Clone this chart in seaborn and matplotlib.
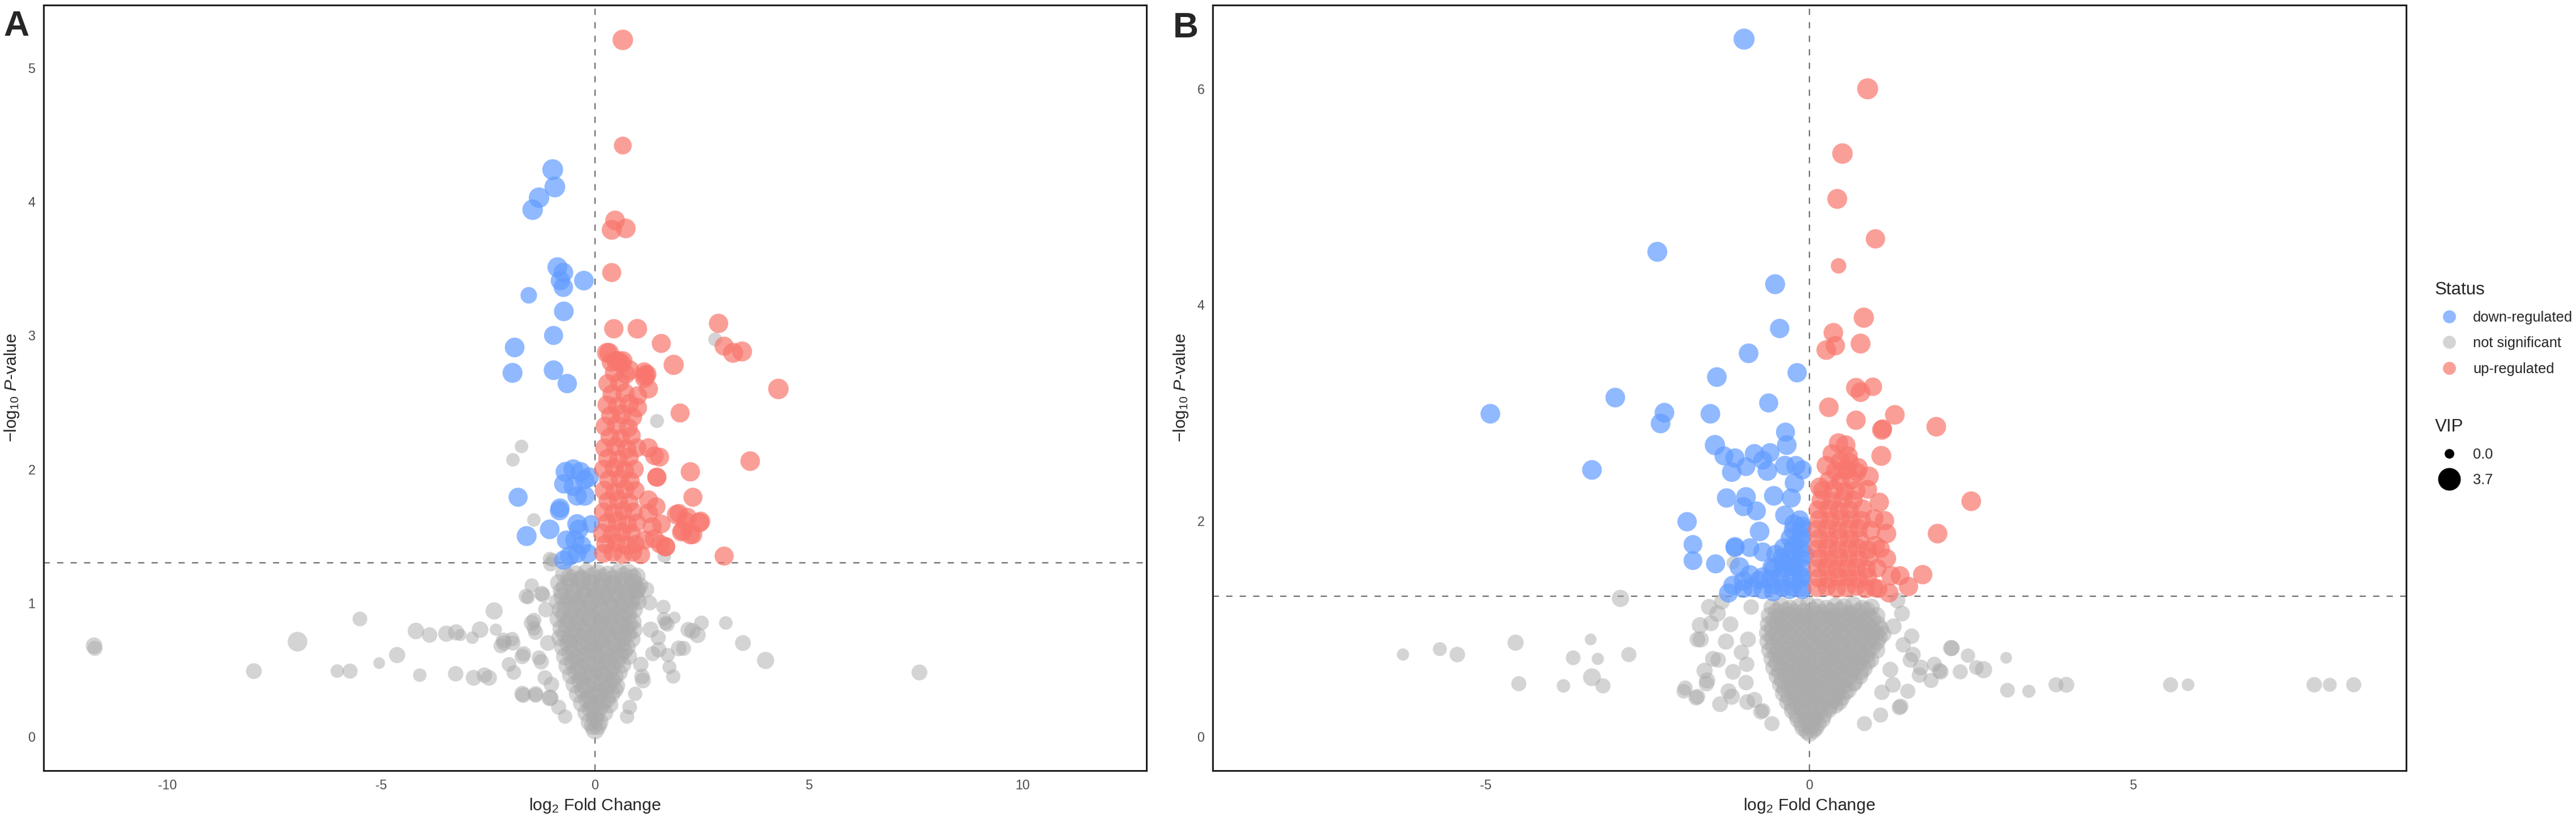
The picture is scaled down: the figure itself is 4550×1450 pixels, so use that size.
"""
Volcano plots (panels A and B) of log2 fold change vs -log10 P-value,
points coloured by regulation status and sized by VIP.
"""

import matplotlib
matplotlib.use("Agg")
import numpy as np
import pandas as pd
import matplotlib.pyplot as plt
from matplotlib.lines import Line2D
import seaborn as sns


STATUS_ORDER = ["down-regulated", "not significant", "up-regulated"]
VIP_BREAKS = [0.0, 3.7]

# ---------------- panel A ----------------
# not significant (dense core first, then the spread-out points)
a_ns_x = [
    -0.72, -0.45, -0.20, 0.05, 0.30, 0.55, 0.78, 0.98,
    -0.85, -0.58, -0.33, -0.08, 0.18, 0.42, 0.68, 0.90, 1.05,
    -0.78, -0.50, -0.25, 0.00, 0.26, 0.50, 0.74, 0.96,
    -0.88, -0.62, -0.38, -0.12, 0.12, 0.38, 0.62, 0.85, 1.02,
    -0.80, -0.55, -0.30, -0.05, 0.20, 0.45, 0.70, 0.92,
    -0.86, -0.60, -0.35, -0.10, 0.15, 0.40, 0.64, 0.88,
    -0.78, -0.52, -0.27, -0.02, 0.24, 0.48, 0.72, 0.90,
    -0.82, -0.58, -0.33, -0.08, 0.17, 0.42, 0.66, 0.86,
    -0.75, -0.50, -0.25, 0.00, 0.25, 0.50, 0.74,
    -0.70, -0.44, -0.18, 0.08, 0.33, 0.58, 0.78,
    -0.64, -0.38, -0.12, 0.14, 0.40, 0.64,
    -0.56, -0.30, -0.05, 0.20, 0.46,
    -0.48, -0.22, 0.04, 0.30, 0.50,
    -0.40, -0.14, 0.12, 0.38,
    -0.30, -0.06, 0.18, 0.34,
    -0.20, 0.02, 0.22,
    -0.12, 0.10,
    0.00,
    -11.72, -11.70, -6.96, -7.98, -5.50, -6.03, -5.73, -5.05,
    -4.63, -4.19, -3.87, -3.48, -3.25, -3.15, -2.87, -2.69,
    -2.36, -2.32, -2.13, -1.94, -4.10, -3.26, -2.84, -2.59,
    -2.48, -1.68, -1.90, -1.57, -1.25, -1.43, -1.43, -1.67,
    -1.31, -1.02, -1.39, -1.06, -2.20, -1.48, -1.06, -1.43,
    -1.72, -1.92, 1.45, 2.81, -0.99, 1.62, 3.06, 3.46,
    3.99, 7.59, 2.18, 2.40, 1.96, 1.74, 1.83, 1.10,
    0.94, 1.61, 1.48, 1.69, 2.28, 1.86, 1.65, 1.70,
    2.07, 1.49, 1.12, 1.60, 1.28, 1.07, 2.49, 0.81,
    1.30, 1.20, 1.35, 0.75, -1.61, -1.22, -1.48, -1.39,
    -1.92, -2.14, -2.01, -1.70, -1.26, -1.17, -1.70, -1.39,
    -1.04, -1.04, -1.15, -1.10, -0.85, -0.70,
]
a_ns_y = [
    1.22, 1.21, 1.23, 1.22, 1.21, 1.23, 1.22, 1.20,
    1.15, 1.16, 1.17, 1.15, 1.16, 1.14, 1.17, 1.15, 1.13,
    1.09, 1.08, 1.10, 1.09, 1.07, 1.10, 1.08, 1.09,
    1.01, 1.03, 1.02, 1.01, 1.03, 1.02, 1.00, 1.02, 1.01,
    0.95, 0.94, 0.96, 0.95, 0.93, 0.96, 0.94, 0.95,
    0.88, 0.87, 0.89, 0.88, 0.87, 0.89, 0.88, 0.86,
    0.81, 0.80, 0.82, 0.81, 0.80, 0.82, 0.81, 0.80,
    0.74, 0.73, 0.75, 0.74, 0.73, 0.75, 0.74, 0.73,
    0.67, 0.66, 0.68, 0.67, 0.66, 0.68, 0.67,
    0.60, 0.59, 0.61, 0.60, 0.59, 0.61, 0.60,
    0.53, 0.52, 0.54, 0.53, 0.52, 0.54,
    0.46, 0.45, 0.47, 0.46, 0.45,
    0.39, 0.38, 0.40, 0.39, 0.38,
    0.32, 0.31, 0.33, 0.32,
    0.25, 0.24, 0.26, 0.24,
    0.18, 0.17, 0.18,
    0.11, 0.11,
    0.05,
    0.68, 0.66, 0.71, 0.49, 0.88, 0.49, 0.49, 0.55,
    0.61, 0.79, 0.76, 0.77, 0.78, 0.76, 0.74, 0.80,
    0.94, 0.80, 0.70, 0.73, 0.46, 0.47, 0.44, 0.46,
    0.44, 0.31, 0.48, 1.04, 1.07, 0.87, 0.81, 0.62,
    0.59, 0.39, 0.31, 0.29, 0.68, 1.13, 1.33, 1.62,
    2.17, 2.07, 2.36, 2.97, 1.32, 1.35, 0.85, 0.70,
    0.57, 0.48, 0.80, 0.76, 0.66, 0.52, 0.45, 0.45,
    0.32, 0.88, 0.74, 0.84, 0.79, 0.89, 0.85, 0.61,
    0.66, 0.65, 0.42, 0.97, 1.00, 0.54, 0.85, 0.22,
    0.80, 1.10, 0.62, 0.15, 1.05, 1.06, 0.85, 0.78,
    0.70, 0.72, 0.54, 0.60, 0.56, 0.44, 0.32, 0.32,
    0.29, 1.29, 0.95, 0.70, 0.22, 0.15,
]
a_ns_vip = [
    2.1, 2.4, 1.9, 2.3, 2.2, 2.0, 2.4, 1.8,
    1.8, 2.2, 2.5, 2.0, 2.3, 2.1, 1.9, 2.2, 1.7,
    2.0, 2.3, 2.1, 2.4, 1.9, 2.2, 2.0, 1.9,
    1.7, 2.2, 2.0, 2.5, 2.1, 2.3, 1.9, 2.0, 1.6,
    2.1, 1.9, 2.3, 2.0, 2.4, 2.1, 2.2, 1.8,
    1.9, 2.2, 2.0, 2.4, 2.1, 1.9, 2.3, 2.0,
    2.2, 2.0, 2.4, 2.1, 2.3, 2.0, 1.9, 2.1,
    1.8, 2.3, 2.1, 2.2, 2.0, 2.4, 2.1, 1.9,
    2.0, 2.2, 2.3, 2.1, 2.2, 2.0, 2.1,
    2.1, 2.0, 2.4, 2.2, 2.1, 2.3, 1.8,
    2.2, 2.1, 2.3, 2.0, 2.2, 2.0,
    2.1, 2.3, 2.2, 2.1, 2.0,
    2.0, 2.2, 2.3, 2.1, 1.9,
    2.1, 2.2, 2.0, 2.1,
    2.2, 2.1, 2.2, 1.9,
    2.1, 2.3, 2.0,
    2.2, 2.1,
    2.3,
    1.6, 1.2, 2.6, 1.4, 1.1, 0.8, 1.2, 0.4,
    1.5, 1.6, 1.3, 1.5, 1.5, 0.5, 0.6, 1.6,
    1.8, 0.5, 1.3, 1.0, 0.8, 1.3, 1.4, 1.3,
    1.4, 1.3, 1.1, 0.8, 1.3, 1.2, 1.0, 1.2,
    1.1, 1.3, 1.2, 1.6, 1.2, 1.0, 0.9, 0.8,
    0.8, 0.8, 0.9, 0.9, 0.9, 0.8, 0.8, 1.4,
    1.8, 1.4, 1.3, 1.5, 1.4, 0.9, 1.0, 1.3,
    1.0, 0.9, 1.2, 1.1, 1.5, 0.5, 1.0, 1.0,
    1.2, 1.3, 1.4, 1.0, 1.2, 1.3, 1.1, 1.1,
    1.5, 1.4, 1.2, 1.0, 1.2, 1.2, 1.4, 1.2,
    1.2, 1.3, 1.1, 1.3, 1.3, 1.2, 1.5, 1.3,
    1.4, 1.1, 1.3, 1.4, 1.2, 1.0,
]
# extra not-significant features packed inside the dense core
a_ns_fill_x = [
    -0.60, -0.32, -0.07, 0.18, 0.43, 0.67, 0.88,
    -0.70, -0.40, -0.13, 0.13, 0.38, 0.62, 0.85, 1.00,
    -0.75, -0.50, -0.25, 0.00, 0.25, 0.50, 0.74, 0.95,
    -0.68, -0.42, -0.17, 0.08, 0.33, 0.58, 0.82,
    -0.72, -0.47, -0.22, 0.03, 0.28, 0.52, 0.78,
    -0.66, -0.40, -0.14, 0.12, 0.36, 0.60, 0.80,
    -0.70, -0.45, -0.20, 0.05, 0.30, 0.55, 0.78,
    -0.62, -0.38, -0.12, 0.12, 0.38, 0.62,
    -0.58, -0.32, -0.06, 0.20, 0.45, 0.68,
    -0.52, -0.25, 0.01, 0.27, 0.52,
    -0.44, -0.18, 0.08, 0.33, 0.56,
    -0.36, -0.10, 0.16, 0.40,
    -0.28, -0.02, 0.25, 0.46,
    -0.18, 0.06, 0.28,
    -0.10, 0.12,
    0.00,
    -0.05, 0.06,
]
a_ns_fill_y = [
    1.19, 1.18, 1.20, 1.19, 1.18, 1.20, 1.19,
    1.12, 1.13, 1.11, 1.12, 1.13, 1.11, 1.12, 1.10,
    1.05, 1.04, 1.06, 1.05, 1.04, 1.06, 1.05, 1.04,
    0.98, 0.99, 0.97, 0.98, 0.99, 0.97, 0.98,
    0.91, 0.90, 0.92, 0.91, 0.90, 0.92, 0.91,
    0.84, 0.85, 0.83, 0.84, 0.85, 0.83, 0.84,
    0.77, 0.76, 0.78, 0.77, 0.76, 0.78, 0.77,
    0.70, 0.71, 0.69, 0.70, 0.71, 0.69,
    0.63, 0.62, 0.64, 0.63, 0.62, 0.64,
    0.56, 0.57, 0.55, 0.56, 0.57,
    0.49, 0.48, 0.50, 0.49, 0.48,
    0.42, 0.43, 0.41, 0.42,
    0.35, 0.34, 0.36, 0.35,
    0.28, 0.29, 0.28,
    0.21, 0.22,
    0.14,
    0.08, 0.08,
]
a_ns_fill_vip = [
    2.0, 2.2, 2.1, 2.3, 1.9, 2.2, 2.0,
    2.1, 1.9, 2.3, 2.0, 2.2, 2.1, 1.9, 1.8,
    2.2, 2.0, 2.1, 2.3, 2.0, 2.2, 1.9, 1.8,
    2.1, 2.3, 2.0, 2.2, 2.1, 1.9, 2.0,
    2.0, 2.2, 2.1, 2.3, 2.0, 2.1, 1.9,
    2.2, 2.0, 2.3, 2.1, 2.0, 2.2, 1.9,
    2.1, 2.2, 2.0, 2.3, 2.1, 2.0, 1.9,
    2.2, 2.1, 2.3, 2.0, 2.2, 2.0,
    2.0, 2.2, 2.1, 2.3, 2.1, 1.9,
    2.1, 2.0, 2.3, 2.2, 2.0,
    2.2, 2.1, 2.0, 2.3, 1.9,
    2.0, 2.2, 2.1, 2.0,
    2.1, 2.3, 2.0, 1.9,
    2.2, 2.1, 2.0,
    2.1, 2.0,
    2.2,
    2.0, 2.1,
]

# down-regulated
a_down_x = [
    -0.99, -0.94, -1.31, -1.46, -0.88, -0.74, -0.81, -0.74, -0.26, -1.55,
    -0.73, -0.97, -1.88, -1.93, -0.97, -0.65,
    -1.80, -1.60, -1.06, -0.83, -0.69, -0.51, -0.34, -0.14, -0.73, -0.51,
    -0.24, -0.42, -0.24, -0.82, -0.42, -0.38, -0.67, -0.47, -0.31, -0.60,
    -0.42, -0.16, -0.73, -0.09,
]
a_down_y = [
    4.24, 4.11, 4.03, 3.94, 3.51, 3.47, 3.41, 3.36, 3.41, 3.30,
    3.18, 3.00, 2.91, 2.72, 2.74, 2.64,
    1.79, 1.50, 1.55, 1.69, 1.98, 2.00, 1.98, 1.94, 1.89, 1.87,
    1.92, 1.80, 1.80, 1.71, 1.59, 1.55, 1.47, 1.47, 1.43, 1.35,
    1.37, 1.37, 1.32, 1.59,
]
a_down_vip = [
    3.0, 3.0, 2.9, 2.9, 2.7, 2.6, 2.5, 2.5, 2.6, 1.6,
    2.6, 2.4, 2.6, 2.7, 2.6, 2.5,
    2.4, 2.7, 2.6, 2.5, 2.7, 2.6, 2.6, 2.6, 2.5, 2.4,
    2.3, 2.5, 2.6, 2.4, 2.6, 2.5, 2.4, 2.5, 2.3, 2.5,
    2.4, 2.3, 2.5, 2.0,
]

# up-regulated (spread-out points, then the dense column)
a_up_x = [
    0.65, 0.65, 0.47, 0.39, 0.72, 0.39, 0.44, 0.99, 1.55, 1.84,
    2.89, 3.02, 3.23, 3.44, 4.29, 3.63, 1.99, 3.02, 0.33, 0.49,
    0.65, 1.18, 1.51, 2.23, 2.29, 1.44, 1.91, 2.12, 2.44, 2.23,
    2.02, 1.65, 1.55, 1.39, 0.28, 0.54, 0.81, 1.16, 1.45, 1.96,
    2.16, 2.47, 2.05, 2.29, 1.25, 1.34, 1.43, 1.16, 1.65, 1.52,
    1.07, 1.25, 1.25, 1.39, 1.21, 1.25, 0.99,
    0.20, 0.42, 0.65, 0.88,
    0.25, 0.50, 0.75, 0.95,
    0.18, 0.40, 0.62, 0.85,
    0.28, 0.52, 0.76, 0.98,
    0.20, 0.44, 0.66, 0.90,
    0.30, 0.55, 0.80,
    0.22, 0.46, 0.70, 0.94,
    0.32, 0.58, 0.82,
    0.20, 0.45, 0.70, 0.92,
    0.30, 0.55, 0.80,
    0.22, 0.48, 0.74, 0.98,
    0.35, 0.60, 0.85,
    0.24, 0.50, 0.78,
    0.36, 0.62, 0.88,
    0.28, 0.52, 0.80,
    0.40, 0.70, 1.00,
    0.30, 0.58,
    0.45, 0.72, 1.15,
    0.38, 0.62,
]
a_up_y = [
    5.21, 4.42, 3.86, 3.79, 3.80, 3.47, 3.05, 3.05, 2.94, 2.78,
    3.09, 2.92, 2.87, 2.88, 2.60, 2.06, 2.42, 1.35, 2.87, 2.81,
    2.81, 2.70, 2.09, 1.98, 1.79, 1.94, 1.66, 1.61, 1.60, 1.51,
    1.53, 1.42, 1.59, 1.48, 2.87, 2.81, 2.74, 2.68, 1.94, 1.67,
    1.64, 1.61, 1.54, 1.51, 1.67, 1.57, 1.72, 1.47, 1.42, 1.44,
    1.36, 1.77, 2.16, 2.10, 2.71, 2.60, 2.46,
    1.37, 1.38, 1.36, 1.38,
    1.44, 1.45, 1.43, 1.44,
    1.52, 1.51, 1.53, 1.52,
    1.60, 1.61, 1.59, 1.60,
    1.68, 1.67, 1.69, 1.68,
    1.76, 1.77, 1.75,
    1.84, 1.83, 1.85, 1.84,
    1.92, 1.93, 1.91,
    2.00, 2.01, 1.99, 2.00,
    2.08, 2.07, 2.09,
    2.16, 2.17, 2.15, 2.16,
    2.24, 2.23, 2.25,
    2.32, 2.33, 2.31,
    2.40, 2.41, 2.39,
    2.48, 2.47, 2.49,
    2.56, 2.57, 2.55,
    2.64, 2.65,
    2.72, 2.71, 2.73,
    2.80, 2.79,
]
a_up_vip = [
    2.9, 2.0, 2.6, 2.7, 2.6, 2.4, 2.5, 2.6, 2.4, 2.8,
    2.5, 2.4, 2.7, 2.7, 2.9, 2.6, 2.4, 2.4, 2.6, 2.5,
    2.5, 2.6, 2.4, 2.5, 2.4, 2.3, 2.6, 2.4, 2.6, 2.5,
    2.3, 2.4, 2.3, 2.4, 2.7, 2.6, 2.6, 2.5, 2.4, 2.3,
    2.4, 2.5, 2.4, 2.3, 2.5, 2.4, 2.3, 2.4, 2.5, 2.3,
    2.3, 2.4, 2.4, 2.3, 2.5, 2.4, 2.5,
    2.3, 2.5, 2.2, 2.4,
    2.4, 2.2, 2.5, 2.1,
    2.5, 2.3, 2.4, 2.2,
    2.2, 2.4, 2.3, 2.1,
    2.4, 2.5, 2.2, 2.3,
    2.3, 2.4, 2.2,
    2.5, 2.2, 2.4, 2.3,
    2.4, 2.3, 2.5,
    2.3, 2.4, 2.2, 2.3,
    2.5, 2.3, 2.4,
    2.2, 2.4, 2.5, 2.3,
    2.4, 2.2, 2.3,
    2.5, 2.4, 2.3,
    2.3, 2.5, 2.4,
    2.4, 2.3, 2.5,
    2.5, 2.4, 2.3,
    2.4, 2.5,
    2.3, 2.4, 2.2,
    2.4, 2.5,
]

# ---------------- panel B ----------------
b_ns_x = [
    -0.58, -0.44, -0.30, -0.16, -0.02, 0.12, 0.26, 0.40, 0.54, 0.68, 0.82, 0.96,
    -0.62, -0.48, -0.34, -0.20, -0.06, 0.08, 0.22, 0.36, 0.50, 0.64, 0.78, 0.92, 1.04,
    -0.64, -0.50, -0.36, -0.22, -0.08, 0.06, 0.20, 0.34, 0.48, 0.62, 0.76, 0.90, 1.06,
    -0.65, -0.51, -0.37, -0.23, -0.09, 0.05, 0.19, 0.33, 0.47, 0.61, 0.75, 0.89, 1.03, 1.14,
    -0.64, -0.49, -0.35, -0.21, -0.07, 0.07, 0.21, 0.35, 0.49, 0.63, 0.77, 0.91, 1.05,
    -0.62, -0.48, -0.34, -0.20, -0.06, 0.08, 0.22, 0.36, 0.50, 0.64, 0.78, 0.92, 1.04,
    -0.58, -0.44, -0.30, -0.16, -0.02, 0.12, 0.26, 0.40, 0.54, 0.68, 0.82, 0.95,
    -0.55, -0.41, -0.27, -0.13, 0.01, 0.15, 0.29, 0.43, 0.57, 0.71, 0.85,
    -0.50, -0.36, -0.22, -0.08, 0.06, 0.20, 0.34, 0.48, 0.62, 0.78,
    -0.45, -0.31, -0.17, -0.03, 0.11, 0.25, 0.39, 0.53, 0.68,
    -0.40, -0.26, -0.12, 0.02, 0.16, 0.30, 0.44, 0.55,
    -0.34, -0.20, -0.06, 0.08, 0.22, 0.36, 0.46,
    -0.26, -0.12, 0.02, 0.16, 0.30,
    -0.18, -0.04, 0.10, 0.20,
    -0.10, 0.02, 0.10,
    0.00,
    -6.28, -5.71, -5.44, -4.54, -4.49, -3.80, -3.65, -3.38, -3.36, -3.27,
    -3.19, -2.79, -2.92, -1.94, -1.73, -1.69, -1.73, -1.55, -1.52, -1.41,
    -1.62, -1.59, -1.38, -1.20, -1.18, -0.96, -0.75, -1.92, -1.75, -1.58,
    -1.49, -1.68, -1.42, -1.22, -1.29, -1.18, -0.98, -1.25, -0.85, -0.72,
    -0.58, -0.97, -1.35, -0.90, -0.95, -1.05,
    3.04, 2.69, 2.19, 2.33, 3.06, 3.39, 3.81, 3.97, 5.58, 5.85,
    7.80, 8.04, 8.41, 2.01, 1.88, 1.70, 1.60, 1.52, 1.39, 2.20,
    1.58, 1.56, 1.72, 1.93, 2.03, 2.58, 1.41, 1.29, 1.12, 1.43,
    1.36, 1.30, 1.45, 1.10, 0.85, 1.25, 2.45,
]
b_ns_y = [
    1.20, 1.21, 1.19, 1.20, 1.22, 1.20, 1.19, 1.21, 1.20, 1.22, 1.19, 1.20,
    1.12, 1.11, 1.13, 1.12, 1.11, 1.13, 1.12, 1.11, 1.12, 1.13, 1.11, 1.12, 1.12,
    1.04, 1.05, 1.03, 1.04, 1.05, 1.03, 1.04, 1.05, 1.03, 1.04, 1.05, 1.03, 1.04,
    0.96, 0.95, 0.97, 0.96, 0.95, 0.97, 0.96, 0.95, 0.97, 0.96, 0.95, 0.97, 0.96, 0.95,
    0.88, 0.89, 0.87, 0.88, 0.89, 0.87, 0.88, 0.89, 0.87, 0.88, 0.89, 0.87, 0.88,
    0.80, 0.79, 0.81, 0.80, 0.79, 0.81, 0.80, 0.79, 0.81, 0.80, 0.79, 0.81, 0.80,
    0.72, 0.73, 0.71, 0.72, 0.73, 0.71, 0.72, 0.73, 0.71, 0.72, 0.73, 0.71,
    0.64, 0.63, 0.65, 0.64, 0.63, 0.65, 0.64, 0.63, 0.65, 0.64, 0.63,
    0.56, 0.57, 0.55, 0.56, 0.57, 0.55, 0.56, 0.57, 0.55, 0.56,
    0.48, 0.47, 0.49, 0.48, 0.47, 0.49, 0.48, 0.47, 0.49,
    0.40, 0.41, 0.39, 0.40, 0.41, 0.39, 0.40, 0.41,
    0.32, 0.31, 0.33, 0.32, 0.31, 0.33, 0.32,
    0.24, 0.25, 0.23, 0.24, 0.25,
    0.16, 0.15, 0.17, 0.16,
    0.08, 0.09, 0.08,
    0.03,
    0.76, 0.81, 0.76, 0.87, 0.49, 0.47, 0.73, 0.90, 0.55, 0.72,
    0.47, 0.76, 1.28, 0.42, 0.37, 1.03, 0.90, 1.20, 1.05, 0.71,
    0.61, 0.49, 0.30, 0.37, 1.61, 0.32, 0.23, 0.45, 0.36, 0.52,
    0.72, 0.90, 1.14, 1.04, 0.88, 0.60, 0.50, 0.42, 0.34, 0.24,
    0.12, 0.67, 1.25, 1.20, 0.90, 0.78,
    0.73, 0.62, 0.82, 0.60, 0.43, 0.42, 0.48, 0.48, 0.48, 0.48,
    0.48, 0.48, 0.48, 0.61, 0.52, 0.57, 0.76, 0.42, 0.27, 0.82,
    0.93, 0.71, 0.64, 0.67, 0.60, 0.64, 0.28, 0.48, 0.41, 1.14,
    1.26, 1.02, 0.85, 0.20, 0.12, 0.62, 0.75,
]
b_ns_vip = [
    1.7, 1.8, 1.6, 1.9, 1.7, 1.8, 1.6, 1.7, 1.9, 1.8, 1.6, 1.7,
    1.8, 1.6, 1.7, 1.8, 1.9, 1.7, 1.6, 1.8, 1.7, 1.9, 1.7, 1.6, 1.8,
    1.6, 1.8, 1.9, 1.7, 1.6, 1.8, 1.7, 1.9, 1.6, 1.8, 1.7, 1.8, 1.6,
    1.7, 1.9, 1.6, 1.8, 1.7, 1.9, 1.6, 1.8, 1.7, 1.6, 1.9, 1.7, 1.8, 1.6,
    1.8, 1.7, 1.9, 1.6, 1.8, 1.7, 1.9, 1.6, 1.8, 1.7, 1.6, 1.8, 1.7,
    1.6, 1.8, 1.7, 1.9, 1.6, 1.8, 1.7, 1.6, 1.9, 1.7, 1.8, 1.6, 1.7,
    1.7, 1.9, 1.8, 1.6, 1.7, 1.9, 1.8, 1.7, 1.6, 1.8, 1.7, 1.6,
    1.8, 1.6, 1.7, 1.9, 1.8, 1.6, 1.7, 1.8, 1.9, 1.7, 1.6,
    1.7, 1.8, 1.6, 1.9, 1.7, 1.8, 1.6, 1.7, 1.8, 1.7,
    1.6, 1.8, 1.7, 1.9, 1.7, 1.6, 1.8, 1.7, 1.6,
    1.8, 1.7, 1.6, 1.9, 1.7, 1.8, 1.6, 1.7,
    1.7, 1.8, 1.9, 1.7, 1.6, 1.8, 1.7,
    1.8, 1.7, 1.6, 1.8, 1.7,
    1.7, 1.8, 1.6, 1.7,
    1.7, 1.8, 1.6,
    1.8,
    0.5, 0.9, 1.3, 1.5, 1.2, 0.8, 1.1, 0.4, 2.0, 0.5,
    1.2, 1.2, 1.8, 1.1, 1.3, 1.6, 1.4, 1.5, 1.4, 1.3,
    1.5, 1.3, 1.4, 1.5, 0.7, 1.4, 1.3, 1.2, 1.3, 1.5,
    1.4, 1.5, 1.6, 1.4, 1.5, 1.4, 1.3, 1.4, 1.4, 1.2,
    1.2, 1.3, 1.4, 1.3, 1.4, 1.3,
    0.4, 1.8, 1.5, 1.2, 1.1, 0.7, 1.2, 1.4, 1.2, 0.6,
    1.3, 0.9, 1.2, 1.3, 1.2, 1.3, 1.3, 1.2, 1.3, 1.4,
    1.3, 1.3, 1.4, 1.2, 1.3, 1.1, 1.3, 1.4, 1.3, 1.4,
    1.4, 1.5, 1.3, 1.2, 1.2, 1.4, 1.0,
]
b_ns_fill_x = [
    -0.51, -0.37, -0.23, -0.09, 0.05, 0.19, 0.33, 0.47, 0.61, 0.75, 0.89,
    -0.55, -0.41, -0.27, -0.13, 0.01, 0.15, 0.29, 0.43, 0.57, 0.71, 0.85, 0.98,
    -0.57, -0.43, -0.29, -0.15, -0.01, 0.13, 0.27, 0.41, 0.55, 0.69, 0.83, 0.97, 1.10,
    -0.58, -0.44, -0.30, -0.16, -0.02, 0.12, 0.26, 0.40, 0.54, 0.68, 0.82, 0.96, 1.08,
    -0.56, -0.42, -0.28, -0.14, 0.00, 0.14, 0.28, 0.42, 0.56, 0.70, 0.84, 0.98,
    -0.52, -0.38, -0.24, -0.10, 0.04, 0.18, 0.32, 0.46, 0.60, 0.74, 0.88,
    -0.50, -0.36, -0.22, -0.08, 0.06, 0.20, 0.34, 0.48, 0.62, 0.76, 0.90,
    -0.46, -0.32, -0.18, -0.04, 0.10, 0.24, 0.38, 0.52, 0.66, 0.80,
    -0.42, -0.28, -0.14, 0.00, 0.14, 0.28, 0.42, 0.56, 0.70,
    -0.38, -0.24, -0.10, 0.04, 0.18, 0.32, 0.46, 0.60,
    -0.32, -0.18, -0.04, 0.10, 0.24, 0.38, 0.50,
    -0.26, -0.12, 0.02, 0.16, 0.30, 0.40,
    -0.20, -0.06, 0.08, 0.22,
    -0.12, 0.02, 0.14,
    -0.04, 0.06,
]
b_ns_fill_y = [
    1.16, 1.17, 1.15, 1.16, 1.17, 1.15, 1.16, 1.17, 1.15, 1.16, 1.17,
    1.08, 1.07, 1.09, 1.08, 1.07, 1.09, 1.08, 1.07, 1.09, 1.08, 1.07, 1.09,
    1.00, 1.01, 0.99, 1.00, 1.01, 0.99, 1.00, 1.01, 0.99, 1.00, 1.01, 0.99, 1.00,
    0.92, 0.91, 0.93, 0.92, 0.91, 0.93, 0.92, 0.91, 0.93, 0.92, 0.91, 0.93, 0.92,
    0.84, 0.85, 0.83, 0.84, 0.85, 0.83, 0.84, 0.85, 0.83, 0.84, 0.85, 0.83,
    0.76, 0.75, 0.77, 0.76, 0.75, 0.77, 0.76, 0.75, 0.77, 0.76, 0.75,
    0.68, 0.69, 0.67, 0.68, 0.69, 0.67, 0.68, 0.69, 0.67, 0.68, 0.69,
    0.60, 0.59, 0.61, 0.60, 0.59, 0.61, 0.60, 0.59, 0.61, 0.60,
    0.52, 0.53, 0.51, 0.52, 0.53, 0.51, 0.52, 0.53, 0.51,
    0.44, 0.43, 0.45, 0.44, 0.43, 0.45, 0.44, 0.43,
    0.36, 0.37, 0.35, 0.36, 0.37, 0.35, 0.36,
    0.28, 0.27, 0.29, 0.28, 0.27, 0.29,
    0.20, 0.21, 0.19, 0.20,
    0.12, 0.13, 0.12,
    0.05, 0.06,
]
b_ns_fill_vip = [
    1.8, 1.7, 1.9, 1.6, 1.8, 1.7, 1.9, 1.8, 1.6, 1.7, 1.8,
    1.7, 1.9, 1.8, 1.6, 1.7, 1.8, 1.9, 1.7, 1.6, 1.8, 1.7, 1.6,
    1.9, 1.7, 1.8, 1.6, 1.9, 1.7, 1.8, 1.6, 1.7, 1.9, 1.8, 1.7, 1.6,
    1.6, 1.8, 1.7, 1.9, 1.8, 1.6, 1.7, 1.9, 1.8, 1.7, 1.6, 1.8, 1.7,
    1.8, 1.6, 1.9, 1.7, 1.8, 1.7, 1.6, 1.9, 1.8, 1.7, 1.8, 1.6,
    1.7, 1.9, 1.8, 1.6, 1.7, 1.8, 1.9, 1.7, 1.6, 1.8, 1.7,
    1.9, 1.7, 1.6, 1.8, 1.9, 1.7, 1.8, 1.6, 1.7, 1.8, 1.6,
    1.8, 1.7, 1.9, 1.8, 1.6, 1.7, 1.8, 1.9, 1.7, 1.6,
    1.7, 1.8, 1.6, 1.9, 1.7, 1.8, 1.7, 1.6, 1.8,
    1.8, 1.6, 1.7, 1.9, 1.8, 1.7, 1.6, 1.7,
    1.7, 1.9, 1.8, 1.6, 1.7, 1.8, 1.7,
    1.8, 1.7, 1.9, 1.7, 1.6, 1.7,
    1.7, 1.8, 1.6, 1.7,
    1.8, 1.7, 1.6,
    1.7, 1.8,
]

b_down_x = [
    -1.01, -2.35, -0.53, -0.46, -0.94, -0.19, -1.43, -3.00, -4.93, -2.24,
    -2.30, -1.53, -0.63, -3.36, -0.37, -0.35, -1.46, -1.89, -1.80, -1.80,
    -1.45, -1.15,
    -1.32, -1.15, -0.85, -0.61, -0.72, -0.98, -1.20, -0.65, -0.38, -0.21,
    -0.11, -0.23, -1.28, -0.98, -1.02, -0.82, -0.55, -0.28, -0.77, -0.38,
    -0.24, -0.11, -1.15, -0.92, -0.72, -0.52, -0.24, -0.11, -0.07, -1.08,
    -0.92, -1.18, -1.02, -0.72, -0.58, -0.45, -0.24, -0.11, -0.31, -0.56,
    -0.11, -1.25, -0.72, -0.41,
    -0.12, -0.27, -0.42, -0.57, -0.88, -1.02, -0.13, -0.28, -0.60, -0.78,
    -0.12, -0.26, -0.40, -0.55, -0.13, -0.28, -0.43, -0.12, -0.26, -0.40,
    -0.14, -0.30, -0.12, -0.25, -0.15,
]
b_down_y = [
    6.46, 4.49, 4.19, 3.78, 3.55, 3.37, 3.33, 3.14, 2.99, 3.00,
    2.90, 2.99, 3.09, 2.47, 2.82, 2.70, 2.70, 1.99, 1.78, 1.63,
    1.60, 1.75,
    2.60, 2.58, 2.62, 2.63, 2.56, 2.50, 2.45, 2.46, 2.51, 2.51,
    2.47, 2.35, 2.21, 2.22, 2.13, 2.09, 2.23, 2.21, 1.90, 2.05,
    1.97, 1.95, 1.76, 1.75, 1.71, 1.69, 1.77, 1.85, 1.69, 1.57,
    1.50, 1.40, 1.44, 1.48, 1.57, 1.48, 1.57, 1.48, 1.36, 1.34,
    1.36, 1.33, 1.36, 1.61,
    1.38, 1.39, 1.38, 1.40, 1.38, 1.37, 1.47, 1.46, 1.46, 1.45,
    1.56, 1.57, 1.55, 1.56, 1.65, 1.64, 1.66, 1.74, 1.73, 1.75,
    1.83, 1.84, 1.92, 1.91, 2.01,
]
b_down_vip = [
    3.1, 2.7, 2.7, 2.5, 2.6, 2.5, 2.6, 2.6, 2.6, 2.6,
    2.6, 2.6, 2.4, 2.6, 2.4, 2.6, 2.8, 2.5, 2.3, 2.3,
    2.4, 2.4,
    2.4, 2.5, 2.5, 2.4, 2.3, 2.3, 2.6, 2.6, 2.6, 2.5,
    2.4, 2.6, 2.5, 2.6, 2.4, 2.4, 2.6, 2.4, 2.6, 2.5,
    2.4, 2.4, 2.4, 2.3, 2.4, 2.3, 2.5, 2.4, 2.4, 2.6,
    2.4, 2.6, 2.5, 2.4, 2.3, 2.4, 2.4, 2.4, 2.3, 2.3,
    2.3, 2.4, 2.3, 2.4,
    2.3, 2.4, 2.2, 2.3, 2.4, 2.2, 2.3, 2.4, 2.3, 2.2,
    2.4, 2.3, 2.2, 2.4, 2.3, 2.4, 2.2, 2.3, 2.4, 2.3,
    2.2, 2.3, 2.4, 2.3, 2.2,
]

b_up_x = [
    0.90, 0.51, 0.43, 1.02, 0.45, 0.84, 0.37, 0.26, 0.40, 0.79,
    0.72, 0.79, 0.98, 0.30, 0.72, 1.32, 1.12, 1.96, 2.50, 1.98,
    1.75, 1.13, 1.11, 0.56, 0.26, 0.52, 0.75, 0.92, 0.16, 1.08,
    1.16, 1.19, 1.02, 1.19, 1.26, 1.40, 1.53, 1.23, 1.06, 0.45,
    0.60, 0.35,
    0.12, 0.27, 0.42, 0.57, 0.72, 0.87, 1.00,
    0.14, 0.30, 0.45, 0.60, 0.75, 0.90,
    0.12, 0.27, 0.42, 0.57, 0.72, 0.88, 1.05,
    0.15, 0.30, 0.45, 0.60, 0.76, 0.92,
    0.12, 0.28, 0.44, 0.60, 0.74, 0.90, 1.10,
    0.14, 0.30, 0.46, 0.62, 0.78,
    0.12, 0.28, 0.44, 0.60, 0.76, 0.95,
    0.15, 0.32, 0.48, 0.64, 0.80, 1.00,
    0.13, 0.30, 0.46, 0.62, 0.82,
    0.18, 0.35, 0.52, 0.68,
    0.20, 0.38, 0.55, 0.72, 0.90,
    0.30, 0.48, 0.65,
    0.40, 0.58, 0.74,
    0.48, 0.62,
]
b_up_y = [
    6.00, 5.40, 4.98, 4.61, 4.36, 3.88, 3.74, 3.58, 3.62, 3.64,
    3.23, 3.19, 3.24, 3.05, 2.93, 2.98, 2.84, 2.87, 2.18, 1.88,
    1.50, 2.85, 2.60, 2.70, 2.51, 2.47, 2.49, 2.41, 2.31, 2.17,
    2.00, 1.88, 1.77, 1.65, 1.49, 1.49, 1.39, 1.33, 1.37, 2.72,
    2.60, 2.62,
    1.38, 1.39, 1.37, 1.38, 1.39, 1.37, 1.38,
    1.47, 1.46, 1.48, 1.47, 1.46, 1.48,
    1.56, 1.57, 1.55, 1.56, 1.57, 1.55, 1.56,
    1.65, 1.64, 1.66, 1.65, 1.64, 1.66,
    1.74, 1.75, 1.73, 1.74, 1.75, 1.73, 1.74,
    1.83, 1.82, 1.84, 1.83, 1.82,
    1.92, 1.93, 1.91, 1.92, 1.93, 1.91,
    2.01, 2.00, 2.02, 2.01, 2.00, 2.02,
    2.10, 2.11, 2.09, 2.10, 2.11,
    2.19, 2.18, 2.20, 2.19,
    2.28, 2.29, 2.27, 2.28, 2.29,
    2.37, 2.36, 2.38,
    2.46, 2.47, 2.45,
    2.55, 2.54,
]
b_up_vip = [
    3.1, 2.9, 2.7, 2.5, 1.3, 2.8, 2.6, 2.6, 2.5, 2.7,
    2.7, 2.6, 2.2, 2.6, 2.5, 2.6, 2.6, 2.6, 2.6, 2.6,
    2.5, 2.4, 2.7, 2.6, 2.5, 2.4, 2.6, 2.6, 2.5, 2.5,
    2.5, 2.6, 2.4, 2.5, 2.5, 2.4, 2.5, 2.4, 2.3, 2.5,
    2.4, 2.4,
    2.3, 2.4, 2.2, 2.5, 2.3, 2.4, 2.2,
    2.4, 2.3, 2.5, 2.2, 2.4, 2.3,
    2.2, 2.4, 2.3, 2.5, 2.3, 2.4, 2.2,
    2.5, 2.3, 2.4, 2.2, 2.4, 2.3,
    2.3, 2.5, 2.2, 2.4, 2.3, 2.4, 2.2,
    2.4, 2.2, 2.5, 2.3, 2.4,
    2.2, 2.4, 2.3, 2.5, 2.3, 2.4,
    2.4, 2.3, 2.2, 2.4, 2.5, 2.3,
    2.3, 2.5, 2.4, 2.2, 2.4,
    2.4, 2.3, 2.5, 2.3,
    2.2, 2.4, 2.3, 2.4, 2.3,
    2.4, 2.3, 2.5,
    2.3, 2.4, 2.2,
    2.4, 2.3,
]


def build_frame(groups):
    """Stack the status groups into one long table (grey drawn first)."""
    frames = []
    for status, xs, ys, vips in groups:
        frames.append(pd.DataFrame({"log2FC": xs, "logP": ys, "VIP": vips, "Status": status}))
    return pd.concat(frames, ignore_index=True)


def draw_panel(ax, df, xlim, ylim, xticks, yticks, palette):
    line_kw = dict(color="#707070", lw=0.55, dashes=(4.8, 5.6), zorder=0.5)
    ax.axvline(0, **line_kw)
    ax.axhline(-np.log10(0.05), **line_kw)
    sns.scatterplot(data=df, x="log2FC", y="logP", hue="Status", hue_order=STATUS_ORDER,
                    palette=palette, size="VIP", sizes=(16.6, 92), size_norm=(0, 3.7),
                    linewidth=0, legend=False, ax=ax, zorder=2)
    ax.set_xlim(*xlim)
    ax.set_ylim(*ylim)
    ax.set_xticks(xticks)
    ax.set_yticks(yticks)
    ax.set_xlabel(r"$\mathrm{log}_{2}$ Fold Change", fontsize=7.2, labelpad=2)
    ax.set_ylabel(r"$-\mathrm{log}_{10}$ $\mathit{P}$-value", fontsize=7.2, labelpad=3)
    for side in ["left", "right", "top", "bottom"]:
        ax.spines[side].set_visible(True)
        ax.spines[side].set_linewidth(0.7)
        ax.spines[side].set_color("#1A1A1A")
    ax.tick_params(axis="both", labelsize=5.6, labelcolor="#4D4D4D", color="#333333",
                   length=2, width=0.5, pad=1.5, direction="out")
    ax.grid(False)


def main():
    sns.set_theme(style="white")
    plt.rcParams["font.family"] = ["Liberation Sans", "DejaVu Sans"]
    plt.rcParams["mathtext.fontset"] = "custom"
    plt.rcParams["mathtext.rm"] = "Liberation Sans"
    plt.rcParams["mathtext.it"] = "Liberation Sans:italic"
    plt.rcParams["axes.unicode_minus"] = False

    palette = {
        "down-regulated": (0.380, 0.612, 1.000, 0.70),
        "not significant": (0.671, 0.671, 0.671, 0.50),
        "up-regulated": (0.973, 0.463, 0.427, 0.70),
    }

    df_a = build_frame([
        ("not significant", a_ns_x, a_ns_y, a_ns_vip),
        ("not significant", a_ns_fill_x, a_ns_fill_y, a_ns_fill_vip),
        ("down-regulated", a_down_x, a_down_y, a_down_vip),
        ("up-regulated", a_up_x, a_up_y, a_up_vip),
    ])
    df_b = build_frame([
        ("not significant", b_ns_x, b_ns_y, b_ns_vip),
        ("not significant", b_ns_fill_x, b_ns_fill_y, b_ns_fill_vip),
        ("down-regulated", b_down_x, b_down_y, b_down_vip),
        ("up-regulated", b_up_x, b_up_y, b_up_vip),
    ])

    W, H = 4550, 1450
    fig = plt.figure(figsize=(W / 300, H / 300), dpi=300)
    ax_a = fig.add_axes([77 / W, 1 - 1361 / H, (2025 - 77) / W, (1361 - 9) / H])
    ax_b = fig.add_axes([2142 / W, 1 - 1361 / H, (4250 - 2142) / W, (1361 - 9) / H])

    draw_panel(ax_a, df_a, (-12.9, 12.9), (-0.254, 5.47), [-10, -5, 0, 5, 10], [0, 1, 2, 3, 4, 5], palette)
    draw_panel(ax_b, df_b, (-9.22, 9.22), (-0.315, 6.775), [-5, 0, 5], [0, 2, 4, 6], palette)

    fig.text(6 / W, 1 - 63 / H, "A", fontsize=15, fontweight="bold", ha="left", va="baseline")
    fig.text(2072 / W, 1 - 66 / H, "B", fontsize=15, fontweight="bold", ha="left", va="baseline")

    # legends: Status colours and VIP sizes
    status_handles = [Line2D([], [], ls="", marker="o", markersize=5.5, markeredgewidth=0,
                             markerfacecolor=palette[s]) for s in STATUS_ORDER]
    vip_handles = [Line2D([], [], ls="", marker="o", markersize=ms, markeredgewidth=0,
                          markerfacecolor="black") for ms in (np.sqrt(16.6), np.sqrt(92))]
    leg_kw = dict(loc="upper left", frameon=False, fontsize=6.1, title_fontsize=7.5,
                  alignment="left", borderpad=0, borderaxespad=0, handlelength=2.0,
                  handletextpad=0.64, labelspacing=0.85)
    fig.legend(status_handles, STATUS_ORDER, title="Status",
               bbox_to_anchor=(4301 / W, 1 - 497 / H), **leg_kw)
    fig.legend(vip_handles, [f"{v:.1f}" for v in VIP_BREAKS], title="VIP",
               bbox_to_anchor=(4301 / W, 1 - 739 / H), **leg_kw)

    fig.savefig("out.png", dpi=300)


if __name__ == "__main__":
    main()
